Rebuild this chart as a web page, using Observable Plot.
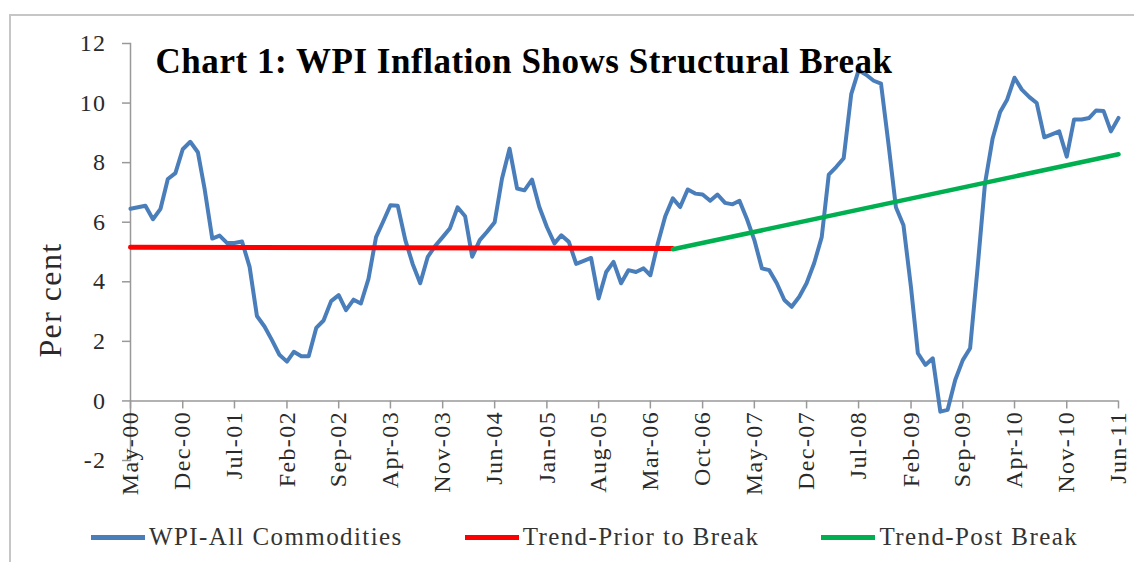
<!DOCTYPE html>
<html>
<head>
<meta charset="utf-8">
<script src="https://cdn.jsdelivr.net/npm/d3@7"></script>
<script src="https://cdn.jsdelivr.net/npm/@observablehq/plot@0.6"></script>
<style>
  html, body { margin: 0; padding: 0; background: #fff; }
  body { width: 1134px; height: 562px; overflow: hidden; position: relative; font-family: "Liberation Serif", "Times New Roman", serif; }
  #chart { position: absolute; left: 0; top: 0; }
  #frame { position: absolute; left: 9px; top: 14px; width: 1140px; height: 560px; border-left: 2px solid #c6c6c6; border-top: 2px solid #c6c6c6; pointer-events: none; }
  #legend { position: absolute; left: 91px; top: 515px; height: 44px; display: flex; align-items: center; gap: 62px; font-size: 25px; letter-spacing: 1.4px; color: #333; }
  .item { display: flex; align-items: center; gap: 4px; }
  .sw { width: 54px; height: 5px; }
</style>
</head>
<body>
<div id="chart"></div>
<div id="frame"></div>
<div id="legend"></div>
<script>
// ---- data ----
const startMonth = "2000-05";           // first observation (May-00)
const wpi = [
  6.45, 6.50, 6.55, 6.10, 6.45, 7.45, 7.65, 8.45, 8.70, 8.35,
  7.10, 5.45, 5.55, 5.30, 5.30, 5.35, 4.50, 2.85, 2.50, 2.05,
  1.55, 1.32, 1.65, 1.50, 1.50, 2.45, 2.70, 3.35, 3.55, 3.05,
  3.40, 3.27, 4.10, 5.50, 6.00, 6.57, 6.55, 5.40, 4.60, 3.95,
  4.84, 5.20, 5.50, 5.80, 6.50, 6.20, 4.84, 5.40, 5.68, 6.00,
  7.46, 8.47, 7.13, 7.07, 7.43, 6.51, 5.84, 5.29, 5.56, 5.34,
  4.60, 4.70, 4.80, 3.44, 4.33, 4.67, 3.95, 4.39, 4.33, 4.45,
  4.22, 5.30, 6.20, 6.80, 6.51, 7.10, 6.96, 6.93, 6.72, 6.93,
  6.65, 6.60, 6.72, 6.10, 5.40, 4.45, 4.39, 3.95, 3.39, 3.16,
  3.50, 3.95, 4.62, 5.50, 7.60, 7.86, 8.15, 10.30, 11.10, 10.95,
  10.75, 10.65, 8.60, 6.50, 5.90, 3.80, 1.60, 1.21, 1.43, -0.36,
  -0.30, 0.70, 1.37, 1.77, 4.50, 7.30, 8.80, 9.70, 10.10, 10.85,
  10.45, 10.20, 10.00, 8.85, 8.95, 9.05, 8.20, 9.45, 9.45, 9.50,
  9.75, 9.73, 9.05, 9.50
];
const trendPriorMonths = ["2000-05", "2006-06"];
const trendPriorValues = [5.16, 5.12];
const trendPostMonths = ["2006-06", "2011-06"];
const trendPostValues = [5.09, 8.28];
const tickLabels = ["May-00","Dec-00","Jul-01","Feb-02","Sep-02","Apr-03","Nov-03","Jun-04","Jan-05","Aug-05",
                    "Mar-06","Oct-06","May-07","Dec-07","Jul-08","Feb-09","Sep-09","Apr-10","Nov-10","Jun-11"];
const tickStep = 7; // months between labelled ticks
const yTicks = [-2, 0, 2, 4, 6, 8, 10, 12];
const seriesNames = ["WPI-All Commodities", "Trend-Prior to Break", "Trend-Post Break"];
const seriesColors = ["#4a7ebb", "#ff0000", "#00b050"];
const titleText = ["Chart 1: WPI Inflation Shows Structural Break"];
const yLabel = ["Per cent"];

// ---- build ----
const parse = d3.utcParse("%Y-%m");
const t0 = parse(startMonth);
const months = wpi.map((_, i) => d3.utcMonth.offset(t0, i));
const series = months.map((d, i) => ({date: d, v: wpi[i]}));
const prior = trendPriorMonths.map((m, i) => ({date: parse(m), v: trendPriorValues[i]}));
const post = trendPostMonths.map((m, i) => ({date: parse(m), v: trendPostValues[i]}));
const tickDates = tickLabels.map((_, i) => months[i * tickStep]);

const W = 1134, H = 515, mT = 43, mB = 55, mL = 130, mR = 16;
const yDomain = [-2, 12];
const innerH = H - mT - mB;
const axisShift = -innerH * (0 - yDomain[0]) / (yDomain[1] - yDomain[0]);
const serif = "Liberation Serif";

const plot = Plot.plot({
  width: W, height: H,
  marginTop: mT, marginBottom: mB, marginLeft: mL, marginRight: mR,
  style: {fontFamily: serif, fontSize: "24px", letterSpacing: "1.4px", background: "transparent", overflow: "visible"},
  x: {type: "utc", domain: [months[0], months[months.length - 1]], axis: null},
  y: {domain: yDomain, axis: null},
  marks: [
    Plot.frame({anchor: "left", stroke: "#999", strokeWidth: 1.5}),
    Plot.ruleY([0], {stroke: "#999", strokeWidth: 1.5}),
    Plot.axisY({ticks: yTicks, tickSize: 8, tickPadding: 16, tickFormat: d => String(d),
      fontSize: 24, stroke: "#999", strokeWidth: 1.5, fill: "#2a2a2a", label: null}),
    Plot.axisX({ticks: tickDates, anchor: "bottom", tickSize: 8, tickPadding: 2, dy: axisShift,
      tickRotate: -90, fontSize: 24, stroke: "#999", strokeWidth: 1.5, fill: "#2a2a2a", label: null,
      tickFormat: d => tickLabels[tickDates.findIndex(t => +t === +d)]}),
    Plot.line(series, {x: "date", y: "v", stroke: seriesColors[0], strokeWidth: 4, strokeLinejoin: "round"}),
    Plot.line(prior, {x: "date", y: "v", stroke: seriesColors[1], strokeWidth: 5}),
    Plot.line(post, {x: "date", y: "v", stroke: seriesColors[2], strokeWidth: 4.5}),
    Plot.text(yLabel, {text: d => d, frameAnchor: "left", rotate: -90, dx: -80, dy: 48, fontSize: 32, fill: "#2a2a2a", textAnchor: "middle", lineAnchor: "middle"}),
    Plot.text(titleText, {text: d => d, frameAnchor: "top-left", textAnchor: "start", lineAnchor: "top", dx: 25, dy: 5, fontSize: 35, fontWeight: "bold", fill: "#000"})
  ]
});
// tighter letter spacing for the bold title
plot.querySelectorAll("text").forEach(t => {
  if (t.textContent === titleText[0]) t.style.letterSpacing = "0.55px";
});
document.getElementById("chart").appendChild(plot);

const legend = document.getElementById("legend");
seriesNames.forEach((name, i) => {
  const item = document.createElement("div");
  item.className = "item";
  const sw = document.createElement("span");
  sw.className = "sw";
  sw.style.background = seriesColors[i];
  const lab = document.createElement("span");
  lab.textContent = name;
  item.appendChild(sw); item.appendChild(lab);
  legend.appendChild(item);
});
</script>
</body>
</html>
